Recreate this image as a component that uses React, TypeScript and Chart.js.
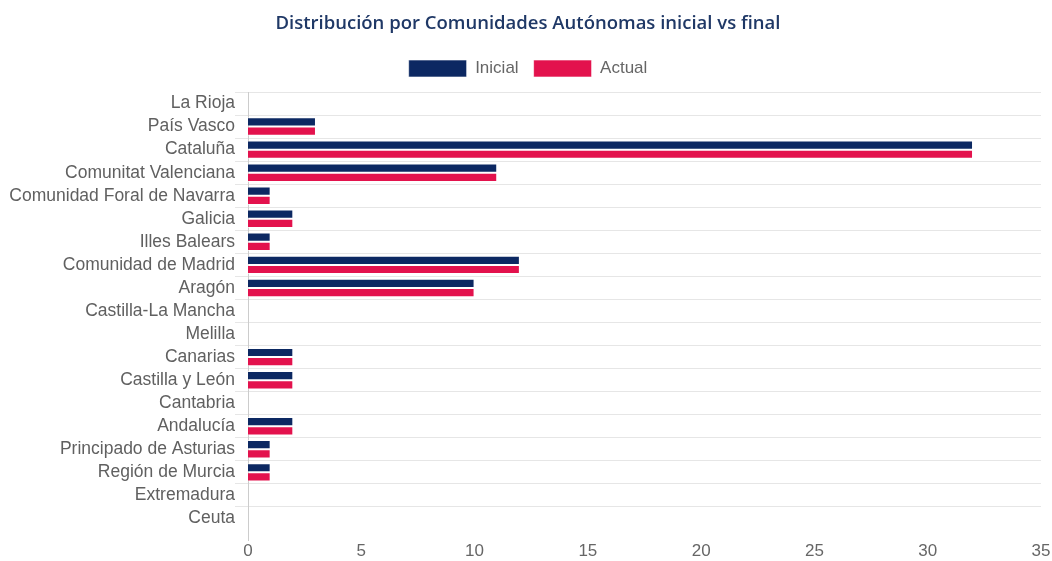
import React, { useEffect, useRef } from "react";
import { Chart, registerables } from "chart.js";

Chart.register(...registerables);

const categories = [
  "La Rioja",
  "País Vasco",
  "Cataluña",
  "Comunitat Valenciana",
  "Comunidad Foral de Navarra",
  "Galicia",
  "Illes Balears",
  "Comunidad de Madrid",
  "Aragón",
  "Castilla-La Mancha",
  "Melilla",
  "Canarias",
  "Castilla y León",
  "Cantabria",
  "Andalucía",
  "Principado de Asturias",
  "Región de Murcia",
  "Extremadura",
  "Ceuta",
];

const inicial = [0, 3, 32, 11, 1, 2, 1, 12, 10, 0, 0, 2, 2, 0, 2, 1, 1, 0, 0];
const actual = [0, 3, 32, 11, 1, 2, 1, 12, 10, 0, 0, 2, 2, 0, 2, 1, 1, 0, 0];

const titleText = "Distribución por Comunidades Autónomas inicial vs final";
const seriesNames = ["Inicial", "Actual"];
const xMin = 0;
const xMax = 35;
const xStep = 5;

const NAVY = "#0c2862";
const RED = "#e3124d";
const FONT = "'Liberation Sans', Arial, sans-serif";

const axisExtend = {
  id: "axisExtend",
  afterDraw(chart: any) {
    const { ctx, chartArea } = chart;
    ctx.save();
    ctx.strokeStyle = "#cccccc";
    ctx.lineWidth = 1;
    ctx.beginPath();
    ctx.moveTo(chartArea.left + 0.5, chartArea.bottom);
    ctx.lineTo(chartArea.left + 0.5, chartArea.bottom + 11);
    ctx.stroke();
    ctx.restore();
  },
};

const legendGap = {
  id: "legendGap",
  beforeLayout(chart: any) {
    const legend = chart.legend;
    if (!legend || legend._gapWrapped) return;
    const orig = legend.fit;
    legend.fit = function () {
      orig.call(this);
      this.height += 5;
    };
    legend._gapWrapped = true;
  },
};

export default function App() {
  const ref = useRef<HTMLCanvasElement | null>(null);

  useEffect(() => {
    document.body.style.margin = "0";
    if (!ref.current) return;
    const chart = new Chart(ref.current, {
      type: "bar",
      data: {
        labels: categories,
        datasets: [
          {
            label: seriesNames[0],
            data: inicial,
            backgroundColor: NAVY,
            borderColor: "rgba(255,255,255,0.6)",
            borderWidth: 1,
            categoryPercentage: 0.8,
            barPercentage: 1.0,
          },
          {
            label: seriesNames[1],
            data: actual,
            backgroundColor: RED,
            borderColor: "rgba(255,255,255,0.6)",
            borderWidth: 1,
            categoryPercentage: 0.8,
            barPercentage: 1.0,
          },
        ],
      },
      plugins: [axisExtend, legendGap],
      options: {
        indexAxis: "y",
        animation: false,
        responsive: false,
        maintainAspectRatio: false,
        layout: { padding: { left: 4, right: 0, top: 0, bottom: 1 } },
        plugins: {
          title: {
            display: true,
            text: titleText,
            color: "#1f3866",
            font: { family: "'Open Sans', sans-serif", size: 18.5, weight: "600" },
            padding: { top: 13, bottom: 9.8 },
          },
          legend: {
            display: true,
            position: "top",
            labels: {
              boxWidth: 58,
              boxHeight: 17,
              color: "#666666",
              font: { family: FONT, size: 17 },
              padding: 15,
            },
          },
          tooltip: { enabled: false },
        },
        scales: {
          x: {
            min: xMin,
            max: xMax,
            afterFit: (scale: any) => {
              scale.height = 30;
              scale.paddingLeft = 0;
              scale.paddingRight = 11;
            },
            ticks: {
              stepSize: xStep,
              color: "#666666",
              font: { family: FONT, size: 17 },
              padding: 11,
              maxRotation: 0,
            },
            grid: { display: false, drawTicks: false },
            border: { display: false },
          },
          y: {
            afterFit: (scale: any) => {
              scale.width = 244;
            },
            ticks: {
              color: "#606060",
              font: { family: FONT, size: 17.5 },
              padding: 0,
              autoSkip: false,
            },
            grid: {
              color: (ctx: any) => (ctx.type === "tick" ? "#e6e6e6" : "rgba(0,0,0,0)"),
              tickLength: 13,
              offset: true,
            },
            border: { display: true, color: "#cccccc", width: 1 },
          },
        },
      },
    });
    return () => chart.destroy();
  }, []);

  return (
    <div style={{ position: "fixed", left: 0, top: 0, width: 1052, height: 561 }}>
      <canvas ref={ref} width={1052} height={561} style={{ width: 1052, height: 561 }} />
    </div>
  );
}
